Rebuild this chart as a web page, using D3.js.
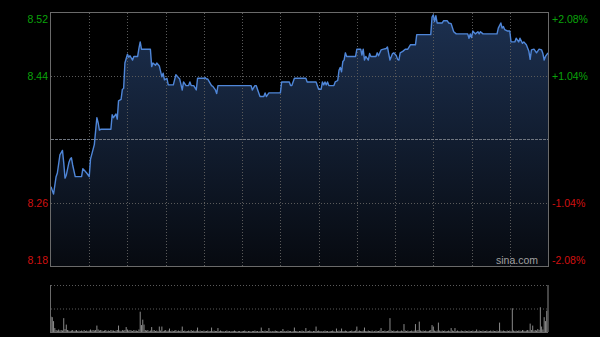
<!DOCTYPE html>
<html><head><meta charset="utf-8">
<script src="https://cdn.jsdelivr.net/npm/d3@7"></script>
<style>html,body{margin:0;padding:0;background:#000;}svg{display:block;}</style>
</head><body>
<svg id="c" width="600" height="337"></svg>
<script>
const prevClose = 8.35;
const pctTicks = [2.08, 1.04, 0, -1.04, -2.08];
const priceLabels = ["8.52", "8.44", "", "8.26", "8.18"];
const pctLabels = ["+2.08%", "+1.04%", "", "-1.04%", "-2.08%"];
const sessionMinutes = 390;
const timeGridStep = 30;

// minute index and price of each vertex of the intraday line
const minutes = [0,2,4,5,7,9,10,11,12,14,15,16,17,19,24,25,27,28,30,31,34,36,37,38,39,47,48,49,51,52,53,55,56,57,58,60,61,62,64,65,68,69,70,71,78,79,80,82,83,85,87,88,89,91,92,96,98,100,101,103,104,106,108,109,110,112,114,115,120,121,122,123,126,127,129,130,131,157,158,160,161,162,164,167,168,169,171,180,181,187,188,189,191,200,201,208,210,212,213,214,215,216,217,218,222,223,225,226,227,228,229,230,231,232,239,240,243,244,245,246,247,249,250,251,255,256,257,259,261,263,264,266,268,269,271,272,273,274,276,278,280,282,286,287,298,299,300,301,302,303,304,307,308,311,312,314,316,318,327,328,329,330,331,332,333,335,336,337,339,350,351,353,354,355,356,358,360,361,364,365,367,368,370,371,373,375,376,377,379,381,383,385,386,387,388,390];
const prices = [8.285,8.275,8.299,8.304,8.329,8.335,8.318,8.297,8.301,8.318,8.323,8.325,8.315,8.299,8.299,8.310,8.306,8.304,8.299,8.323,8.343,8.380,8.373,8.363,8.364,8.364,8.384,8.380,8.385,8.378,8.403,8.405,8.419,8.420,8.455,8.467,8.463,8.465,8.459,8.464,8.464,8.475,8.484,8.474,8.474,8.450,8.455,8.452,8.455,8.451,8.436,8.441,8.432,8.434,8.425,8.425,8.439,8.435,8.433,8.418,8.429,8.424,8.424,8.429,8.424,8.424,8.418,8.434,8.434,8.435,8.433,8.433,8.424,8.423,8.418,8.413,8.424,8.424,8.418,8.424,8.424,8.419,8.409,8.409,8.414,8.409,8.414,8.414,8.429,8.429,8.424,8.424,8.434,8.434,8.429,8.429,8.419,8.419,8.429,8.425,8.429,8.425,8.429,8.424,8.424,8.429,8.431,8.445,8.449,8.443,8.457,8.459,8.469,8.464,8.464,8.474,8.474,8.466,8.474,8.459,8.464,8.459,8.468,8.464,8.464,8.469,8.465,8.473,8.474,8.475,8.477,8.459,8.468,8.469,8.465,8.460,8.459,8.469,8.471,8.474,8.474,8.480,8.480,8.494,8.494,8.518,8.521,8.512,8.520,8.510,8.510,8.510,8.513,8.513,8.510,8.509,8.498,8.495,8.495,8.489,8.495,8.490,8.499,8.497,8.495,8.498,8.495,8.498,8.495,8.495,8.503,8.510,8.503,8.505,8.501,8.499,8.499,8.484,8.484,8.489,8.484,8.489,8.482,8.484,8.480,8.471,8.460,8.473,8.474,8.469,8.474,8.473,8.468,8.459,8.464,8.469];

// volume per minute (thousand shares), minute 0..390
const volumes = [
31,30,22,8,4,3,5,3,4,3,28,6,15,4,3,2,3,4,2,3,
4,2,3,2,3,2,4,2,3,2,3,5,3,4,3,4,13,5,3,4,
3,2,3,4,2,3,2,4,3,3,2,3,4,13,3,2,4,3,4,10,
5,3,4,3,2,4,3,3,2,5,41,14,25,15,4,3,4,2,3,10,
3,4,2,3,2,11,3,11,2,3,4,2,3,7,2,3,2,3,4,2,
3,2,3,11,2,3,2,2,3,2,4,2,3,2,3,9,2,3,2,2,
3,2,2,3,2,2,9,2,3,2,2,8,2,3,2,2,1,2,3,2,
2,1,2,2,3,2,1,2,2,1,2,2,3,2,1,2,2,1,2,2,
3,2,2,1,2,9,2,2,3,2,2,8,2,1,2,2,3,2,2,1,
2,2,6,2,1,2,3,2,2,1,2,9,2,2,1,2,2,3,2,1,
8,2,2,3,2,1,2,2,11,2,3,2,2,1,2,3,2,2,1,2,
2,3,2,1,7,2,3,2,7,2,2,3,2,1,2,2,3,2,2,3,
11,2,3,2,2,3,9,2,2,3,2,2,3,1,2,3,2,2,3,8,
2,2,3,2,2,3,28,3,2,3,2,2,3,2,2,3,2,16,3,2,
3,2,2,3,2,3,16,3,4,21,3,2,3,2,3,2,2,3,4,14,
11,3,2,3,19,3,2,3,2,3,2,2,3,2,8,3,2,8,2,3,
2,2,3,2,2,3,2,2,3,2,2,3,2,2,5,2,3,2,2,3,
2,2,3,2,2,3,2,3,2,2,3,2,19,3,2,3,2,2,3,2,
3,2,48,3,2,3,2,3,3,2,4,3,2,3,4,3,17,4,13,3,
4,3,6,4,50,11,5,30,22,43,95];

const W = 600, H = 337;
const L = 51, R = 548, T = 13, B = 266;
const VT = 285, VB = 332;
const svg = d3.select("#c");
svg.append("rect").attr("width", W).attr("height", H).attr("fill", "#000");

const x = d3.scaleLinear().domain([0, sessionMinutes]).range([L, R]);
const yDomain = [prevClose * (1 + pctTicks[4] / 100), prevClose * (1 + pctTicks[0] / 100)];
const y = d3.scaleLinear().domain(yDomain).range([B, T]);
const yv = d3.scaleLinear().domain([0, d3.max(volumes)]).range([VB, VT]);

const data = minutes.map((m, i) => ({ m, p: prices[i] }));

// gradient fill
const defs = svg.append("defs");
const grad = defs.append("linearGradient").attr("id", "g")
  .attr("gradientUnits", "userSpaceOnUse").attr("x1", 0).attr("y1", T).attr("x2", 0).attr("y2", B);
grad.append("stop").attr("offset", "0%").attr("stop-color", "#1c3050");
grad.append("stop").attr("offset", "100%").attr("stop-color", "#070a10");

const area = d3.area().x(d => x(d.m)).y0(B).y1(d => y(d.p));
svg.append("path").datum(data).attr("d", area).attr("fill", "url(#g)");

// grid: vertical
const vTicks = d3.range(timeGridStep, sessionMinutes, timeGridStep);
svg.append("g").selectAll("line").data(vTicks).join("line")
  .attr("x1", d => Math.round(x(d)) + 0.5).attr("x2", d => Math.round(x(d)) + 0.5)
  .attr("y1", T).attr("y2", B)
  .attr("stroke", "#5a5a5a").attr("stroke-width", 1).attr("stroke-dasharray", "1,2");

// grid: horizontal
svg.append("g").selectAll("line").data(pctTicks.slice(1, 4)).join("line")
  .attr("x1", L).attr("x2", R)
  .attr("y1", d => Math.round(y(prevClose * (1 + d / 100))) + 0.5)
  .attr("y2", d => Math.round(y(prevClose * (1 + d / 100))) + 0.5)
  .attr("stroke", d => d === 0 ? "#707680" : "#5a5a5a")
  .attr("stroke-width", 1)
  .attr("stroke-dasharray", d => d === 0 ? "3,1" : "1,2");

// price line
const line = d3.line().x(d => x(d.m)).y(d => y(d.p));
svg.append("path").datum(data).attr("d", line)
  .attr("fill", "none").attr("stroke", "#4f86d8").attr("stroke-width", 1.4)
  .attr("stroke-linejoin", "round");

// frame
svg.append("rect").attr("x", L - 0.5).attr("y", T - 0.5).attr("width", R - L + 1).attr("height", B - T + 1)
  .attr("fill", "none").attr("stroke", "#6a6a6a").attr("stroke-width", 1);

// labels
const labelY = d => Math.max(T + 6, Math.min(B - 6, y(prevClose * (1 + d / 100))));
const col = d => d > 0 ? "#0aa40a" : "#d01010";
const fnt = "Liberation Sans, Arial, sans-serif";
svg.append("g").selectAll("text").data(pctTicks).join("text")
  .attr("x", L - 3).attr("y", d => labelY(d)).attr("dy", "0.36em")
  .attr("text-anchor", "end").attr("font-family", fnt).attr("font-size", "10.5px")
  .attr("fill", col).text((d, i) => priceLabels[i]);
svg.append("g").selectAll("text").data(pctTicks).join("text")
  .attr("x", R + 4).attr("y", d => labelY(d)).attr("dy", "0.36em")
  .attr("text-anchor", "start").attr("font-family", fnt).attr("font-size", "10.5px")
  .attr("fill", col).text((d, i) => pctLabels[i]);

svg.append("text").attr("x", R - 10).attr("y", B - 2).attr("text-anchor", "end")
  .attr("font-family", fnt).attr("font-size", "10.5px").attr("fill", "#a0a0a0").text("sina.com");

// volume panel
svg.append("line").attr("x1", L).attr("x2", R).attr("y1", VT + 0.5).attr("y2", VT + 0.5)
  .attr("stroke", "#5a5a5a").attr("stroke-dasharray", "1,2");
svg.append("line").attr("x1", L).attr("x2", R).attr("y1", (VT + VB) / 2 + 0.5).attr("y2", (VT + VB) / 2 + 0.5)
  .attr("stroke", "#5a5a5a").attr("stroke-dasharray", "1,2");
svg.append("g").selectAll("line").data(volumes).join("line")
  .attr("x1", (d, i) => x(i)).attr("x2", (d, i) => x(i))
  .attr("y1", VB).attr("y2", d => yv(d))
  .attr("stroke", "#8a8a8a").attr("stroke-width", 1);
svg.append("line").attr("x1", L).attr("x2", R).attr("y1", VB + 0.5).attr("y2", VB + 0.5)
  .attr("stroke", "#6a6a6a");
svg.append("line").attr("x1", L - 0.5).attr("x2", L - 0.5).attr("y1", VT).attr("y2", VB + 1)
  .attr("stroke", "#6a6a6a");
</script>
</body></html>
